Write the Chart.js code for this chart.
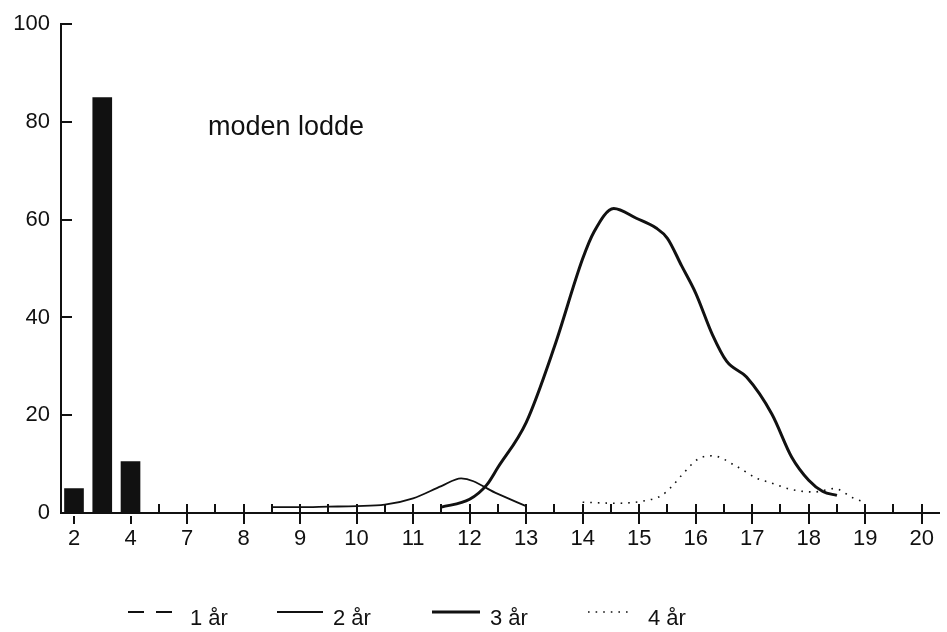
<!DOCTYPE html>
<html><head><meta charset="utf-8">
<script src="https://cdn.jsdelivr.net/npm/chart.js@4"></script>
<style>html,body{margin:0;padding:0;background:#fff}</style>
</head><body>
<canvas id="c" width="947" height="632"></canvas>
<script>
// ---- data ----
const ageCategories = [2, 3, 4];
const ageValues = [5, 85, 10.5];

const len1 = [];
const val1 = [];

const len2 = [8.5, 9, 9.5, 10, 10.5, 11, 11.5, 11.85, 12.5, 13];
const val2 = [1.2, 1.2, 1.3, 1.4, 1.7, 3.0, 5.5, 7.1, 3.9, 1.4];

const len3 = [11.5, 12, 12.3, 12.5, 13, 13.5, 14, 14.2, 14.55, 14.95, 15.3, 15.5, 15.75, 16, 16.3, 16.55, 16.9, 17.35, 17.7, 18, 18.25, 18.5];
const val3 = [1.2, 2.8, 5.7, 9.3, 18.5, 34, 52, 57.5, 62.3, 60.3, 58.3, 56.2, 50.6, 45, 36.4, 31, 27.8, 20.2, 11.4, 6.7, 4.4, 3.6];

const len4 = [14, 14.6, 15.1, 15.4, 15.6, 15.75, 16.05, 16.3, 16.7, 17.1, 17.3, 17.7, 18.1, 18.45, 18.8, 19];
const val4 = [2.2, 2.0, 2.5, 3.6, 5.7, 7.7, 11.1, 11.7, 9.7, 7.0, 6.3, 4.8, 4.3, 5.0, 3.0, 2.2];

const xTickPositions = [5, 6, 7, 8, 9, 10, 11, 12, 13, 14, 15, 16, 17, 18, 19, 20];
const xTickLabels = ['2', '4', '7', '8', '9', '10', '11', '12', '13', '14', '15', '16', '17', '18', '19', '20'];
const yTicks = [0, 20, 40, 60, 80, 100];
const seriesLabels = ['1 år', '2 år', '3 år', '4 år'];
const chartLabel = 'moden lodde';

// ---- helpers ----
const FONT = '"Liberation Sans", Arial, Helvetica, sans-serif';
const INK = '#111';
const agePos = a => xTickPositions[0] + (a - ageCategories[0]) * 0.5;
const pts = (xs, ys) => xs.map((v, i) => ({x: v, y: ys[i]}));

const legendLayout = [
  {x0: 128, x1: 175, tx: 190},
  {x0: 277, x1: 323, tx: 333},
  {x0: 432, x1: 480, tx: 490},
  {x0: 588, x1: 633, tx: 648}
];

const decor = {
  id: 'decor',
  afterDraw(chart) {
    const {ctx, scales: {x, y}} = chart;
    const y0 = y.getPixelForValue(0);
    ctx.save();
    ctx.strokeStyle = INK;
    ctx.lineWidth = 2;
    ctx.setLineDash([]);
    // x tick marks
    for (let v = 6.5; v <= 20.001; v += 0.5) {
      const px = Math.round(x.getPixelForValue(v));
      const isInt = Math.abs(v - Math.round(v)) < 1e-6;
      ctx.beginPath();
      ctx.moveTo(px, y0 - 9);
      ctx.lineTo(px, isInt ? y0 + 11 : y0);
      ctx.stroke();
    }
    for (const v of [xTickPositions[0], xTickPositions[1]]) {
      const px = Math.round(x.getPixelForValue(v));
      ctx.beginPath();
      ctx.moveTo(px, y0 + 3);
      ctx.lineTo(px, y0 + 11);
      ctx.stroke();
    }
    // y tick marks (inside)
    for (const t of yTicks) {
      const py = Math.round(y.getPixelForValue(t));
      ctx.beginPath();
      ctx.moveTo(x.left, py);
      ctx.lineTo(x.left + 11, py);
      ctx.stroke();
    }
    // in-chart label
    ctx.fillStyle = INK;
    ctx.font = '27px ' + FONT;
    ctx.textBaseline = 'alphabetic';
    ctx.textAlign = 'left';
    ctx.fillText(chartLabel, x.left + 147, 135);
    // legend
    ctx.font = '22px ' + FONT;
    const lineDs = chart.data.datasets.filter(d => d.type !== 'bar');
    lineDs.forEach((ds, i) => {
      const L = legendLayout[i];
      ctx.beginPath();
      ctx.lineWidth = ds.borderWidth;
      ctx.setLineDash(ds.borderDash || []);
      ctx.strokeStyle = ds.borderColor;
      ctx.moveTo(L.x0, 612);
      ctx.lineTo(L.x1, 612);
      ctx.stroke();
      ctx.setLineDash([]);
      ctx.fillText(ds.label, L.tx, 625);
    });
    ctx.restore();
  }
};

new Chart(document.getElementById('c'), {
  type: 'line',
  data: {
    datasets: [
      {
        type: 'bar', label: 'alder',
        data: ageCategories.map((a, i) => ({x: agePos(a), y: ageValues[i]})),
        backgroundColor: INK, borderWidth: 0, barThickness: 19
      },
      {label: seriesLabels[0], data: pts(len1, val1), borderColor: INK, borderWidth: 1.8, borderDash: [16, 12], pointRadius: 0, fill: false},
      {label: seriesLabels[1], data: pts(len2, val2), borderColor: INK, borderWidth: 1.8, pointRadius: 0, cubicInterpolationMode: 'monotone', fill: false},
      {label: seriesLabels[2], data: pts(len3, val3), borderColor: INK, borderWidth: 3, pointRadius: 0, cubicInterpolationMode: 'monotone', fill: false},
      {label: seriesLabels[3], data: pts(len4, val4), borderColor: INK, borderWidth: 1.6, borderDash: [1.6, 6], pointRadius: 0, cubicInterpolationMode: 'monotone', fill: false}
    ]
  },
  options: {
    responsive: false,
    animation: false,
    layout: {padding: {top: 19, right: 2, left: 0, bottom: 0}},
    plugins: {legend: {display: false}, tooltip: {enabled: false}},
    scales: {
      x: {
        type: 'linear',
        offset: false,
        min: 4.77, max: 20.31,
        afterFit: s => { s.height = 119; },
        afterBuildTicks: s => { s.ticks = xTickPositions.map(v => ({value: v})); },
        grid: {display: false, drawTicks: false, offset: false},
        border: {display: true, color: INK, width: 2},
        ticks: {
          autoSkip: false, maxRotation: 0, padding: 13, color: INK,
          font: {family: FONT, size: 22},
          callback: v => { const i = xTickPositions.indexOf(v); return i >= 0 ? xTickLabels[i] : ''; }
        }
      },
      y: {
        min: 0, max: 100,
        afterFit: s => { s.width = 61; },
        afterBuildTicks: s => { s.ticks = yTicks.map(v => ({value: v})); },
        grid: {display: false, drawTicks: false},
        border: {display: true, color: INK, width: 2},
        ticks: {padding: 11, color: INK, font: {family: FONT, size: 22}}
      }
    }
  },
  plugins: [decor]
});
</script>
</body></html>
